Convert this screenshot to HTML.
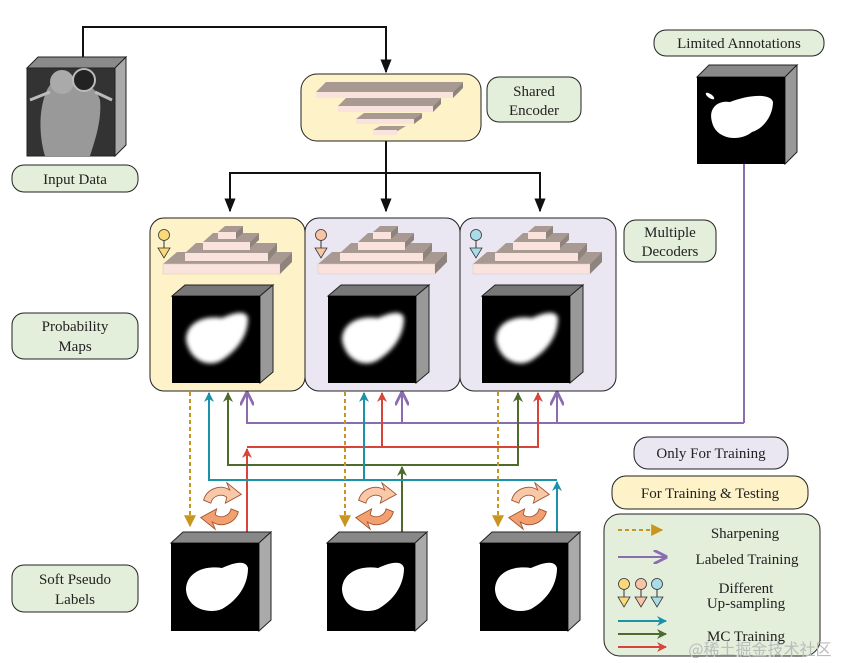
<!DOCTYPE html>
<html><head><meta charset="utf-8"><style>
body{margin:0;background:#fff}
svg{display:block;font-family:"Liberation Serif",serif}
</style></head><body>
<svg width="843" height="663" viewBox="0 0 843 663" xmlns="http://www.w3.org/2000/svg">
<defs>
<marker id="ab" viewBox="0 0 10 10" refX="9" refY="5" markerWidth="7" markerHeight="9" orient="auto"><path d="M0,1 L10,5 L0,9z" fill="#111"/></marker>
<marker id="ag" viewBox="0 0 10 10" refX="9" refY="5" markerWidth="6" markerHeight="7" orient="auto"><path d="M0,0 L10,5 L0,10z" fill="#c8951e"/></marker>
<marker id="ap" viewBox="0 0 10 10" refX="9" refY="5" markerWidth="7" markerHeight="7" orient="auto"><path d="M0,0 L10,5 L0,10" fill="none" stroke="#8a6cb0" stroke-width="2"/></marker>
<marker id="at" viewBox="0 0 10 10" refX="9" refY="5" markerWidth="5" markerHeight="6" orient="auto"><path d="M0,0 L10,5 L0,10 L3,5z" fill="#1a93a8"/></marker>
<marker id="ae" viewBox="0 0 10 10" refX="9" refY="5" markerWidth="5" markerHeight="6" orient="auto"><path d="M0,0 L10,5 L0,10 L3,5z" fill="#4e6b2e"/></marker>
<marker id="ar" viewBox="0 0 10 10" refX="9" refY="5" markerWidth="5" markerHeight="6" orient="auto"><path d="M0,0 L10,5 L0,10 L3,5z" fill="#d9443a"/></marker>
<g id="pyr">
<path d="M0,38 L14,26 L129,26 L117,38z" fill="#a89a92"/><rect x="0" y="38" width="117" height="10" fill="#fbe3dd" stroke="#d8c6c0" stroke-width=".5"/><path d="M117,38 L129,26 L129,36 L117,48z" fill="#8f837d"/>
<path d="M22,27 L33,17 L114,17 L105,27z" fill="#a89a92"/><rect x="22" y="27" width="83" height="8" fill="#fbe3dd"/><path d="M105,27 L114,17 L114,25 L105,35z" fill="#8f837d"/>
<path d="M40,16 L50,7 L96,7 L87,16z" fill="#a89a92"/><rect x="40" y="16" width="47" height="8" fill="#fbe3dd"/><path d="M87,16 L96,7 L96,14 L87,22z" fill="#8f837d"/>
<path d="M55,6 L62,0 L80,0 L73,6z" fill="#a89a92"/><rect x="55" y="6" width="18" height="7" fill="#fbe3dd"/><path d="M73,6 L80,0 L80,7 L73,13z" fill="#8f837d"/>
</g>
<g id="upyel"><circle cx="0" cy="0" r="5.5" fill="#fbd97a" stroke="#333" stroke-width=".8"/><line x1="0" y1="5.5" x2="0" y2="13" stroke="#333"/><path d="M-6,13 L6,13 L0,23z" fill="#fbd97a" stroke="#333" stroke-width=".8"/></g>
<g id="cyc" transform="scale(1.45)"><path d="M-12,-4 A12,12 0 0 1 6,-11 L4,-16 L14,-8 L3,-2 L4,-6 A7,7 0 0 0 -7,-2z" fill="#f8c8a8" stroke="#a0522d" stroke-width=".6"/><path d="M12,4 A12,12 0 0 1 -6,11 L-4,16 L-14,8 L-3,2 L-4,6 A7,7 0 0 0 7,2z" fill="#f3a070" stroke="#a0522d" stroke-width=".6"/></g>
<filter id="bl"><feGaussianBlur stdDeviation="2"/></filter>
</defs>

<path d="M83,57 L83,27 L386,27 L386,72" fill="none" stroke="#111" stroke-width="2" marker-end="url(#ab)"/>
<path d="M386,141 L386,211" fill="none" stroke="#111" stroke-width="2" marker-end="url(#ab)"/>
<path d="M230,211 L230,173 L540,173 L540,211" fill="none" stroke="#111" stroke-width="2" marker-end="url(#ab)"/>
<path d="M230,173 L230,211" stroke="#111" stroke-width="2" marker-end="url(#ab)"/>

<!-- input cube -->
<path d="M27,68 L38,57 L126,57 L115,68z" fill="#8a8a8a" stroke="#222"/>
<path d="M115,68 L126,57 L126,145 L115,156z" fill="#aaa" stroke="#222"/>
<rect x="27" y="68" width="88" height="88" fill="#333" stroke="#222"/>
<path d="M45,95 C50,80 60,75 70,82 C80,78 95,85 100,100 C102,120 95,140 90,156 L45,156 C40,140 38,115 45,95z" fill="#999"/>
<ellipse cx="62" cy="82" rx="12" ry="12" fill="#aaa"/><ellipse cx="84" cy="80" rx="11" ry="11" fill="#222" stroke="#bbb" stroke-width="2"/>
<path d="M30,100 L50,92 M95,92 L112,100" stroke="#bbb" stroke-width="3"/>

<!-- encoder -->
<rect x="301" y="74" width="180" height="67" rx="16" fill="#fdf2c8" stroke="#222"/>
<path d="M316,92 L326,82 L463,82 L453,92z" fill="#a89a92"/><rect x="316" y="92" width="137" height="6" fill="#fbe3dd"/><path d="M453,92 L463,82 L463,88 L453,98z" fill="#8f837d"/>
<path d="M338,106 L346,98 L441,98 L433,106z" fill="#a89a92"/><rect x="338" y="106" width="95" height="6" fill="#fbe3dd"/><path d="M433,106 L441,98 L441,104 L433,112z" fill="#8f837d"/>
<path d="M356,119 L364,113 L422,113 L414,119z" fill="#a89a92"/><rect x="356" y="119" width="58" height="5" fill="#fbe3dd"/><path d="M414,119 L422,113 L422,118 L414,124z" fill="#8f837d"/>
<path d="M373,130 L380,126 L406,126 L396,132z" fill="#a89a92"/><rect x="373" y="130" width="24" height="5" fill="#fbe3dd"/>

<g font-size="15" fill="#222" text-anchor="middle">
<rect x="487" y="77" width="94" height="45" rx="12" fill="#e3eedb" stroke="#222"/><text x="534" y="96">Shared</text><text x="534" y="115">Encoder</text>
<rect x="12" y="165" width="126" height="27" rx="12" fill="#e3eedb" stroke="#222"/><text x="75" y="184">Input Data</text>
<rect x="654" y="30" width="170" height="26" rx="12" fill="#e3eedb" stroke="#222"/><text x="739" y="48">Limited Annotations</text>
<rect x="624" y="220" width="92" height="42" rx="12" fill="#e3eedb" stroke="#222"/><text x="670" y="237">Multiple</text><text x="670" y="256">Decoders</text>
<rect x="12" y="313" width="126" height="46" rx="12" fill="#e3eedb" stroke="#222"/><text x="75" y="331">Probability</text><text x="75" y="351">Maps</text>
<rect x="12" y="565" width="126" height="47" rx="12" fill="#e3eedb" stroke="#222"/><text x="75" y="584">Soft Pseudo</text><text x="75" y="604">Labels</text>
<rect x="634" y="437" width="154" height="32" rx="14" fill="#ebe7f2" stroke="#222"/><text x="711" y="458">Only For Training</text>
<rect x="612" y="476" width="196" height="33" rx="14" fill="#fdf2c8" stroke="#222"/><text x="710" y="498">For Training &amp; Testing</text>
</g>

<!-- annotation cube -->
<path d="M697,77 L709,65 L797,65 L785,77z" fill="#888" stroke="#222"/>
<path d="M785,77 L797,65 L797,152 L785,164z" fill="#999" stroke="#222"/>
<rect x="697" y="77" width="88" height="87" fill="#000"/>
<path d="M712,122 C708,108 718,100 730,102 C745,96 770,92 773,102 C773,114 765,128 752,132 C740,142 716,140 712,122z" fill="#fff"/>
<ellipse cx="710" cy="96" rx="5" ry="2" transform="rotate(35 710 96)" fill="#fff"/>
<line x1="744" y1="164" x2="744" y2="423" stroke="#8a6cb0" stroke-width="2"/>

<rect x="150" y="218" width="155" height="173" rx="14" fill="#fdf2c8" stroke="#222"/>
<rect x="305" y="218" width="155" height="173" rx="14" fill="#ebe7f2" stroke="#222"/>
<rect x="460" y="218" width="156" height="173" rx="14" fill="#ebe7f2" stroke="#222"/>
<use href="#pyr" x="163" y="226"/><use href="#pyr" x="318" y="226"/><use href="#pyr" x="473" y="226"/>
<use href="#upyel" x="164" y="235"/>
<g transform="translate(321,235)"><circle r="5.5" fill="#f7c4a5" stroke="#333" stroke-width=".8"/><line y1="5.5" y2="13" stroke="#333"/><path d="M-6,13 L6,13 L0,23z" fill="#f7c4a5" stroke="#333" stroke-width=".8"/></g>
<g transform="translate(476,235)"><circle r="5.5" fill="#a9dbe8" stroke="#333" stroke-width=".8"/><line y1="5.5" y2="13" stroke="#333"/><path d="M-6,13 L6,13 L0,23z" fill="#a9dbe8" stroke="#333" stroke-width=".8"/></g>

<g id="pc">
<path d="M172,296 L185,285 L273,285 L260,296z" fill="#777" stroke="#222"/>
<path d="M260,296 L273,285 L273,372 L260,383z" fill="#999" stroke="#222"/>
<rect x="172" y="296" width="88" height="87" fill="#000"/>
<path d="M186,340 C186,322 205,315 222,318 C235,312 246,310 248,318 C248,335 238,350 222,360 C210,368 190,362 186,340z" fill="#fff" filter="url(#bl)"/>
</g>
<use href="#pc" x="156"/><use href="#pc" x="310"/>

<g fill="none" stroke-width="2">
<path d="M744,423 L247,423 L247,393" stroke="#8a6cb0" marker-end="url(#ap)"/>
<path d="M402,423 L402,393" stroke="#8a6cb0" marker-end="url(#ap)"/>
<path d="M557,423 L557,393" stroke="#8a6cb0" marker-end="url(#ap)"/>
<path d="M247,532 L247,449" stroke="#d9443a" marker-end="url(#ar)"/>
<path d="M247,447 L538,447 L538,393" stroke="#d9443a" marker-end="url(#ar)"/>
<path d="M382,447 L382,393" stroke="#d9443a" marker-end="url(#ar)"/>
<path d="M402,532 L402,467" stroke="#4e6b2e" marker-end="url(#ae)"/>
<path d="M228,393 L228,465 L518,465 L518,393" stroke="#4e6b2e" marker-end="url(#ae)"/>
<path d="M228,465 L228,393" stroke="#4e6b2e" marker-end="url(#ae)"/>
<path d="M557,532 L557,482" stroke="#1a93a8" marker-end="url(#at)"/>
<path d="M557,480 L209,480 L209,393" stroke="#1a93a8" marker-end="url(#at)"/>
<path d="M364,480 L364,393" stroke="#1a93a8" marker-end="url(#at)"/>
<path d="M190,392 L190,526" stroke="#c8951e" stroke-dasharray="4,3" marker-end="url(#ag)"/>
<path d="M345,392 L345,526" stroke="#c8951e" stroke-dasharray="4,3" marker-end="url(#ag)"/>
<path d="M498,392 L498,526" stroke="#c8951e" stroke-dasharray="4,3" marker-end="url(#ag)"/>
</g>
<use href="#cyc" x="221" y="506"/><use href="#cyc" x="376" y="506"/><use href="#cyc" x="529" y="506"/>

<g id="bc">
<path d="M171,543 L183,532 L271,532 L259,543z" fill="#888" stroke="#222"/>
<path d="M259,543 L271,532 L271,620 L259,631z" fill="#aaa" stroke="#222"/>
<rect x="171" y="543" width="88" height="88" fill="#000"/>
<path d="M186,590 C186,572 205,565 222,568 C235,562 246,560 248,568 C248,585 238,600 222,609 C210,614 188,610 186,590z" fill="#fff"/>
</g>
<use href="#bc" x="156"/><use href="#bc" x="309"/>

<rect x="604" y="514" width="216" height="142" rx="16" fill="#e3eedb" stroke="#222"/>
<g fill="none" stroke-width="2">
<path d="M618,530 L662,530" stroke="#c8951e" stroke-dasharray="4,3" marker-end="url(#ag)"/>
<path d="M618,557 L666,557" stroke="#8a6cb0" marker-end="url(#ap)"/>
<path d="M618,621 L666,621" stroke="#1a93a8" marker-end="url(#at)"/>
<path d="M618,634 L666,634" stroke="#4e6b2e" marker-end="url(#ae)"/>
<path d="M618,647 L666,647" stroke="#d9443a" marker-end="url(#ar)"/>
</g>
<use href="#upyel" x="624" y="584"/>
<g transform="translate(641,584)"><circle r="5.5" fill="#f7c4a5" stroke="#333" stroke-width=".8"/><line y1="5.5" y2="13" stroke="#333"/><path d="M-6,13 L6,13 L0,23z" fill="#f7c4a5" stroke="#333" stroke-width=".8"/></g>
<g transform="translate(657,584)"><circle r="5.5" fill="#a9dbe8" stroke="#333" stroke-width=".8"/><line y1="5.5" y2="13" stroke="#333"/><path d="M-6,13 L6,13 L0,23z" fill="#a9dbe8" stroke="#333" stroke-width=".8"/></g>
<g font-size="15" fill="#222" text-anchor="middle">
<text x="745" y="538">Sharpening</text>
<text x="747" y="564">Labeled Training</text>
<text x="746" y="593">Different</text>
<text x="746" y="608">Up-sampling</text>
<text x="746" y="641">MC Training</text>
</g>
<text x="760" y="655" font-family="'Noto Sans CJK SC',sans-serif" font-size="16" fill="#bbb" text-anchor="middle">@稀土掘金技术社区</text>
</svg>
</body></html>
